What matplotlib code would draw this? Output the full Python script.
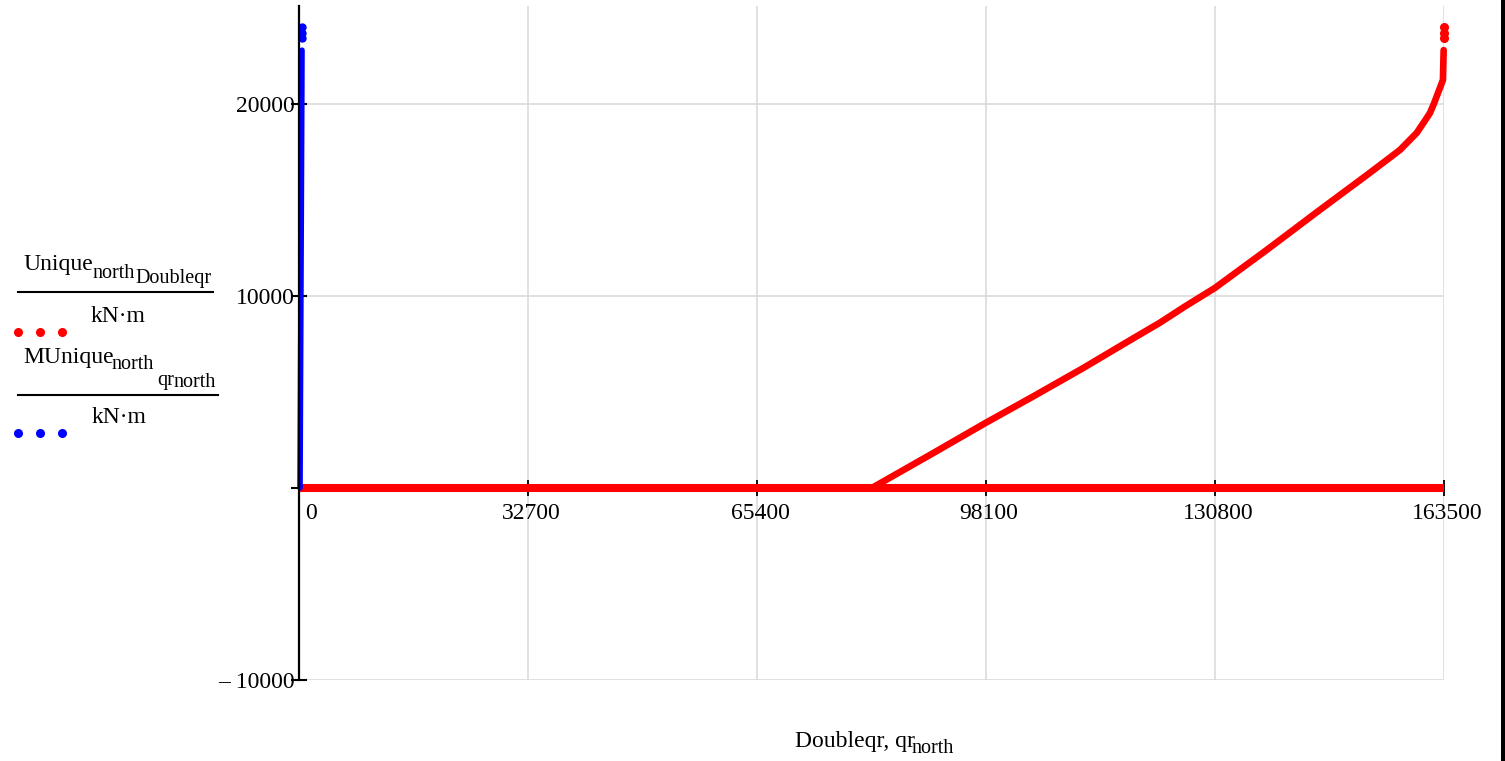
import matplotlib
matplotlib.use("Agg")
import matplotlib.pyplot as plt
from matplotlib.lines import Line2D
import matplotlib.transforms as mtransforms

# ---------------- data ----------------
x_ticks = [0, 32700, 65400, 98100, 130800, 163500]
x_tick_labels = ["0", "32700", "65400", "98100", "130800", "163500"]
y_ticks = [-10000, 0, 10000, 20000]
y_tick_labels = ["\u2013 10000", "", "10000", "20000"]

# red series: Unique_north(Doubleqr) / kN·m
red_zero_x = [0, 163500]
red_zero_y = [0, 0]
red_curve_x = [81800, 90000, 98000, 105000, 112000, 118000, 122900, 126500,
               130800, 138200, 145400, 152500, 155000, 157200, 159600,
               160600, 161500, 162100, 162640, 163000, 163350, 163450]
red_curve_y = [0, 1700, 3380, 4800, 6250, 7550, 8600, 9450,
               10420, 12400, 14380, 16300, 16990, 17600, 18490,
               19030, 19530, 20050, 20570, 20910, 21250, 22800]
red_top_x = [163500, 163500, 163500]
red_top_y = [23450, 23700, 24000]

# blue series: MUnique_north(qr_north) / kN·m
blue_x = [150, 200, 250, 300, 350, 400, 430]
blue_y = [0, 4000, 8000, 12000, 16000, 20000, 22800]
blue_top_x = [450, 460, 470]
blue_top_y = [23450, 23700, 24000]

x_range = (0, 163500)
y_range = (-10000, 25100)

# ---------------- figure ----------------
W, H = 1505, 761
fig = plt.figure(figsize=(W / 100, H / 100), dpi=100)
FONT = "Liberation Serif"
BIG = 17
SMALL = 14.5


def fx(x):
    return x / W


def fy(y):
    return 1 - y / H


ax = fig.add_axes([fx(299), fy(680), fx(1444) - fx(299), fy(6) - fy(680)])
ax.set_xlim(*x_range)
ax.set_ylim(*y_range)

# grid (manual, below data)
for xv in x_ticks[1:]:
    ax.axvline(xv, color="#d9d9d9", lw=1.1, zorder=0.5)
for yv in y_ticks:
    if yv != 0:
        ax.axhline(yv, color="#d9d9d9", lw=1.1, zorder=0.5)

# data
ax.plot(red_zero_x, red_zero_y, color="red", lw=5.8, solid_capstyle="butt",
        clip_on=False, zorder=2)
ax.plot(red_curve_x, red_curve_y, color="red", lw=4.8,
        solid_capstyle="round", solid_joinstyle="round", clip_on=False, zorder=2)
ax.plot(red_top_x, red_top_y, color="red", ls="none", marker="o", ms=5.5,
        clip_on=False, zorder=2)
ax.plot(blue_x, blue_y, color="blue", lw=4.0,
        solid_capstyle="round", clip_on=False, zorder=2)
ax.plot(blue_top_x, blue_top_y, color="blue", ls="none", marker="o", ms=5.0,
        clip_on=False, zorder=2)

# spines
for s in ["top", "right"]:
    ax.spines[s].set_visible(False)
ax.spines["left"].set_linewidth(1.6)
ax.spines["left"].set_color("black")
ax.spines["bottom"].set_position(("data", 0))
ax.spines["bottom"].set_visible(False)

ax.set_xticks(x_ticks)
ax.set_xticklabels(x_tick_labels, fontfamily=FONT, fontsize=BIG)
ax.set_yticks(y_ticks)
ax.set_yticklabels(y_tick_labels, fontfamily=FONT, fontsize=BIG)
ax.tick_params(axis="x", direction="inout", length=11, width=1.3, pad=5,
               color="black")
ax.tick_params(axis="y", direction="inout", length=12, width=1.5, pad=-3,
               color="black")

# shift x tick labels like the reference
off = mtransforms.ScaledTranslation(0.03, 0, fig.dpi_scale_trans)
labs = ax.get_xticklabels()
for i, lab in enumerate(labs):
    if i == 0:
        lab.set_ha("left")
        lab.set_transform(lab.get_transform() +
                          mtransforms.ScaledTranslation(0.06, 0, fig.dpi_scale_trans))
    else:
        lab.set_transform(lab.get_transform() + off)


# ---------------- y-axis "legend" label ----------------
def t(x, y, s, size=BIG, ha="left"):
    fig.text(fx(x), fy(y), s, fontsize=size, family=FONT, ha=ha, va="baseline")


t(23, 270, "Unique")
t(92, 278, "north", SMALL)
t(135, 283, "Doubleqr", SMALL)
fig.add_artist(Line2D([fx(18), fx(213)], [fy(292), fy(292)], color="black", lw=1.5))
t(118, 322, "kN\u00b7m", ha="center")
fig.add_artist(Line2D([fx(18), fx(40), fx(62)], [fy(332)] * 3, ls="none",
                      marker="o", ms=5.5, color="red"))

t(23, 363, "MUnique")
t(111, 369, "north", SMALL)
t(157, 385, "qr", SMALL)
t(173, 387, "north", SMALL)
fig.add_artist(Line2D([fx(18), fx(218)], [fy(395), fy(395)], color="black", lw=1.5))
t(119, 423, "kN\u00b7m", ha="center")
fig.add_artist(Line2D([fx(18), fx(40), fx(62)], [fy(433)] * 3, ls="none",
                      marker="o", ms=5.5, color="blue"))

# x-axis label
t(795, 747, "Doubleqr, qr")
t(911, 753, "north", SMALL)

# right border
fig.add_artist(Line2D([fx(1502.5), fx(1502.5)], [0, 1], color="black", lw=3.6))

fig.savefig("out.png", dpi=100)
